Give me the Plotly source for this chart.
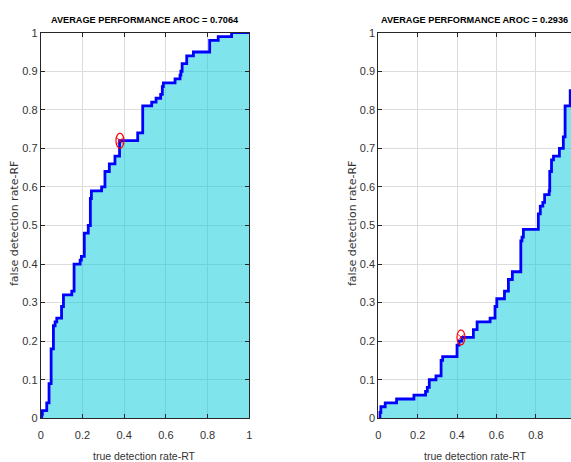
import plotly.graph_objects as go

# ---- data (step points: at RT=x the RF level becomes y) ----
left_rt = [0, 0.005, 0.008, 0.029, 0.040, 0.050, 0.061, 0.069, 0.077, 0.100, 0.109,
           0.149, 0.160, 0.189, 0.195, 0.209, 0.228, 0.238, 0.243, 0.292, 0.308,
           0.329, 0.356, 0.378, 0.465, 0.489, 0.532, 0.553, 0.575, 0.583, 0.588,
           0.644, 0.668, 0.672, 0.678, 0.700, 0.732, 0.810, 0.851, 0.915, 1.0]
left_rf = [0, 0.01, 0.02, 0.04, 0.09, 0.18, 0.24, 0.25, 0.26, 0.29, 0.32,
           0.33, 0.40, 0.41, 0.42, 0.48, 0.50, 0.57, 0.59, 0.60, 0.64,
           0.66, 0.68, 0.72, 0.74, 0.81, 0.82, 0.83, 0.84, 0.86, 0.87,
           0.88, 0.89, 0.90, 0.92, 0.94, 0.95, 0.98, 0.99, 1.0, 1.0]
left_op = (0.38, 0.72)
left_aroc = "0.7064"

right_rt = [0, 0.008, 0.013, 0.035, 0.093, 0.181, 0.240, 0.249, 0.259, 0.293, 0.319,
            0.327, 0.400, 0.410, 0.424, 0.483, 0.502, 0.568, 0.593, 0.602, 0.641,
            0.661, 0.681, 0.724, 0.730, 0.737, 0.813, 0.823, 0.836, 0.845, 0.868,
            0.871, 0.880, 0.890, 0.920, 0.940, 0.949, 0.975, 0.990, 1.0]
right_rf = [0, 0.015, 0.03, 0.04, 0.05, 0.06, 0.07, 0.08, 0.10, 0.11, 0.15,
            0.16, 0.19, 0.20, 0.21, 0.23, 0.25, 0.26, 0.29, 0.31, 0.33,
            0.36, 0.38, 0.46, 0.47, 0.49, 0.53, 0.55, 0.56, 0.58, 0.59,
            0.64, 0.67, 0.68, 0.70, 0.73, 0.81, 0.85, 0.95, 1.0]
right_op = (0.42, 0.21)
right_aroc = "0.2936"

x_ticks = [0, 0.2, 0.4, 0.6, 0.8, 1]
x_ticktext = ["0", "0.2", "0.4", "0.6", "0.8", "1"]
y_ticks = [0, 0.1, 0.2, 0.3, 0.4, 0.5, 0.6, 0.7, 0.8, 0.9, 1]
y_ticktext = ["0", "0.1", "0.2", "0.3", "0.4", "0.5", "0.6", "0.7", "0.8", "0.9", "1"]

x_label = "true detection rate-RT"
y_label = "false detection rate-RF"
title_prefix = "AVERAGE PERFORMANCE AROC = "

# ---- style ----
W, H = 571, 462
FILL = "rgba(0,201,215,0.5)"
LINE = "rgb(0,0,255)"
AX = "#262626"
GRID = "#dcdcdc"
SANS = "Liberation Sans Narrow, Arial Narrow, Liberation Sans, Arial, sans-serif"
tick_font = dict(family=SANS, size=11, color="#333333")

fig = go.Figure()

panels = [
    (left_rt, left_rf, left_op, left_aroc, "x", "y"),
    (right_rt, right_rf, right_op, right_aroc, "x2", "y2"),
]
for rt, rf, op, aroc, xa, ya in panels:
    fig.add_trace(go.Scatter(
        x=rt, y=rf, xaxis=xa, yaxis=ya, mode="lines",
        line=dict(color=LINE, width=2.8, shape="hv"),
        fill="tozeroy", fillcolor=FILL, showlegend=False, hoverinfo="skip"))
    fig.add_trace(go.Scatter(
        x=[op[0]], y=[op[1]], xaxis=xa, yaxis=ya, mode="markers",
        marker=dict(symbol="x-thin", size=6, line=dict(color="red", width=1)),
        showlegend=False, hoverinfo="skip"))
    fig.add_shape(type="circle", xref=xa, yref=ya,
                  xsizemode="pixel", ysizemode="pixel",
                  xanchor=op[0], yanchor=op[1],
                  x0=-4, x1=4, y0=-7.5, y1=7.5,
                  line=dict(color="red", width=1.2))

ydom = [43.7 / H, 429.3 / H]
common_x = dict(tickvals=x_ticks, ticktext=x_ticktext, ticks="inside", ticklen=4,
                tickcolor=AX, showline=True, linecolor=AX, linewidth=1,
                showgrid=True, gridcolor=GRID, gridwidth=1, zeroline=False,
                tickfont=tick_font, fixedrange=True, automargin=False,
                ticklabelstandoff=6)
common_y = dict(tickvals=y_ticks, ticktext=y_ticktext, ticks="inside", ticklen=4,
                tickcolor=AX, showline=True, linecolor=AX, linewidth=1,
                showgrid=True, gridcolor=GRID, gridwidth=1, zeroline=False,
                tickfont=tick_font, range=[0, 1], fixedrange=True, automargin=False)

fig.update_layout(
    width=W, height=H,
    margin=dict(l=0, r=0, t=0, b=0, pad=0),
    paper_bgcolor="white", plot_bgcolor="white",
    xaxis=dict(common_x, domain=[40.7 / W, 249.3 / W], range=[0, 1], anchor="y", mirror="ticks"),
    yaxis=dict(common_y, domain=ydom, anchor="x", mirror="ticks"),
    xaxis2=dict(common_x, domain=[378.3 / W, 1.0], range=[0, 0.979], anchor="y2", mirror="ticks"),
    yaxis2=dict(common_y, domain=ydom, anchor="x2", mirror=False),
)

ann = []
for cx, aroc in [(145 / W, left_aroc), (474 / W, right_aroc)]:
    ann.append(dict(text="<b>" + title_prefix + aroc + "</b>", x=cx, y=(H - 20) / H,
                    xref="paper", yref="paper", showarrow=False,
                    xanchor="center", yanchor="middle",
                    font=dict(family=SANS, size=9.2, color="black")))
for cx in [144 / W, 475 / W]:
    ann.append(dict(text=x_label, x=cx, y=(H - 456) / H, xref="paper", yref="paper",
                    showarrow=False, xanchor="center", yanchor="middle",
                    font=dict(family=SANS, size=10.5, color="#333333")))
for cx in [14 / W, 352 / W]:
    ann.append(dict(text=y_label, x=cx, y=(H - 224) / H, xref="paper", yref="paper",
                    showarrow=False, xanchor="center", yanchor="middle", textangle=-90,
                    font=dict(family="DejaVu Sans, Liberation Sans, sans-serif", size=11,
                              color="#333333")))
fig.update_layout(annotations=ann)

fig.write_html("out.html")
